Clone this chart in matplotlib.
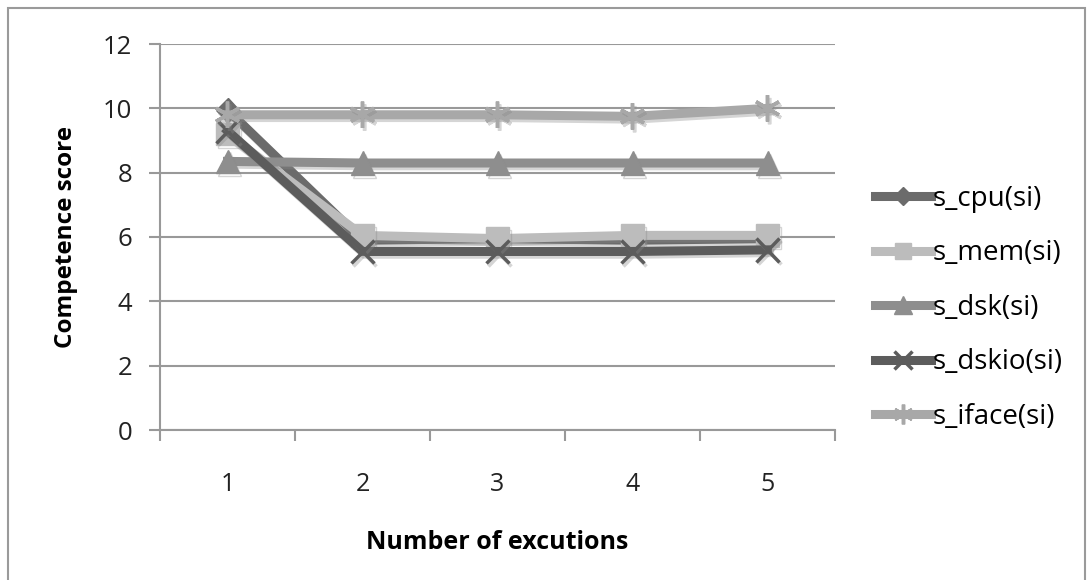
import matplotlib
matplotlib.use("Agg")
import matplotlib.pyplot as plt
from matplotlib.patches import Rectangle
import matplotlib.patheffects as pe

plt.rcParams['font.family'] = ['Open Sans', 'DejaVu Sans']

executions = [1, 2, 3, 4, 5]
s_cpu = [9.95, 5.9, 5.95, 5.9, 5.95]
s_mem = [9.2, 6.05, 5.95, 6.05, 6.05]
s_dsk = [8.35, 8.3, 8.3, 8.3, 8.3]
s_dskio = [9.3, 5.55, 5.55, 5.55, 5.6]
s_iface = [9.8, 9.8, 9.8, 9.75, 10.0]
series_names = ["s_cpu(si)", "s_mem(si)", "s_dsk(si)", "s_dskio(si)", "s_iface(si)"]
y_ticks = [0, 2, 4, 6, 8, 10, 12]

series = [s_cpu, s_mem, s_dsk, s_dskio, s_iface]
colors = ["#6b6b6b", "#bcbcbc", "#8e8e8e", "#5c5c5c", "#a8a8a8"]
markers = ["D", "s", "^", "x", (6, 2, 0)]
msizes = [12, 16, 17, 17, 19]

fig = plt.figure(figsize=(10.92, 5.8), dpi=100)
fig.patches.append(Rectangle((8/1092, -0.01), 1077/1092, 1 - 8/580 + 0.01,
                             transform=fig.transFigure, fill=False,
                             edgecolor="#9a9a9a", lw=1.5))
ax = fig.add_axes([160/1092, 1 - 430/580, (835-160)/1092, (430-44)/580])

shadow = [pe.SimpleLineShadow(offset=(1.5, -2), shadow_color="#888888", alpha=0.35),
          pe.Normal()]
handles = []
for vals, c, m, ms, name in zip(series, colors, markers, msizes, series_names):
    mew = 2.5 if m in ("x", (6, 2, 0)) else 1
    h, = ax.plot(executions, vals, color=c, lw=6.5, marker=m, markersize=ms,
                 markerfacecolor=c, markeredgecolor=c, markeredgewidth=mew,
                 label=name, solid_joinstyle="miter", zorder=3,
                 path_effects=shadow)
    handles.append(h)

ax.set_xlim(0.5, 5.5)
ax.set_ylim(0, 12)
ax.set_yticks(y_ticks)
ax.set_xticks(executions)
ax.set_xticks([0.5, 1.5, 2.5, 3.5, 4.5, 5.5], minor=True)
ax.tick_params(axis='x', which='major', length=0, labelsize=18, pad=30, colors="#222222")
ax.tick_params(axis='x', which='minor', length=8, width=1.5, color="#999999", direction="out")
ax.tick_params(axis='y', length=8, width=1.5, color="#999999", direction="out", labelsize=18.5,
               pad=12, labelcolor="#222222")
ax.grid(axis='y', color="#999999", lw=1.5, zorder=0)
for s in ["top", "right"]:
    ax.spines[s].set_visible(False)
for s in ["left", "bottom"]:
    ax.spines[s].set_color("#999999")
    ax.spines[s].set_linewidth(1.5)

ax.set_xlabel("Number of excutions", fontsize=18, fontweight="bold", labelpad=24)
ax.set_ylabel("Competence score", fontsize=17.5, fontweight="bold", labelpad=18)

leg = fig.legend(handles=handles, loc="upper left", bbox_to_anchor=(864/1092, 1 - 174/580),
                 frameon=False, fontsize=20, handlelength=2.0, handletextpad=0.08,
                 labelspacing=0.95, markerscale=0.75, borderaxespad=0)
for line in leg.get_lines():
    line.set_path_effects([])

fig.savefig("out.png", dpi=100)
